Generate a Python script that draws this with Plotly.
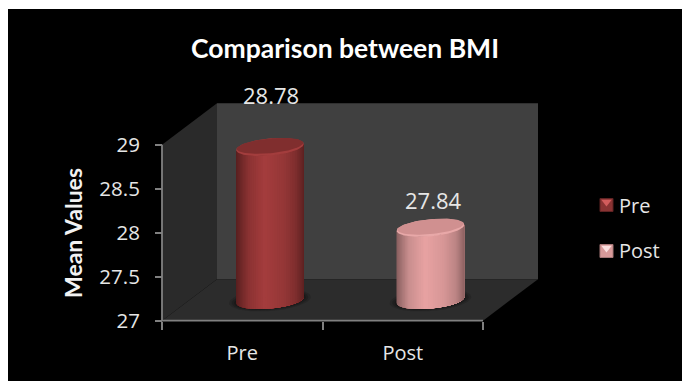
import numpy as np
import plotly.graph_objects as go

# Chart data
categories = ["Pre", "Post"]
mean_values = [28.78, 27.84]
value_labels = ["28.78", "27.84"]
y_ticks = [27, 27.5, 28, 28.5, 29]
y_tick_labels = ["27", "27.5", "28", "28.5", "29"]

# Canvas and scale of the front plane
W, H = 682, 381
ML, MT = 8, 9
X0_PX, Y0_PX = 162.0, 320.7      # page position of x=0, y=27
PX_PER_X, PX_PER_Y = 160.5, 88.0
BASE = 27
FONT = "Open Sans"


def dx(px):
    return px / PX_PER_X


def dy(px):
    return px / PX_PER_Y


def page_x(px):
    return (px - X0_PX) / PX_PER_X


def page_y(px):
    return BASE + (Y0_PX - px) / PX_PER_Y


# Oblique depth of the box and of the plane the cylinders stand in
DEPTH_X, DEPTH_Y = 55.0, 41.5
CYL_X, CYL_Y = 27.7, 20.7
CYL_SCALE = 0.977
RX, RY, TILT = 33.8, 8.6, 3.0

WALL_BACK = "#404040"
WALL_SIDE = "#2a2a2a"
FLOOR = "#2c2c2c"
AXIS = "#808080"
TEXT = "#e6e6e6"

# Colour stops across the cylinder body, left to right
BODY_STOPS = [
    [(0.0, "#5e2222"), (0.12, "#7f2e2e"), (0.3, "#953737"), (0.58, "#a43c3d"), (0.82, "#8a3232"), (1.0, "#5a2020")],
    [(0.0, "#8e6262"), (0.12, "#bb8484"), (0.3, "#d69696"), (0.58, "#e8a2a2"), (0.82, "#c98e8e"), (1.0, "#8a6060")],
]
TOP_RIM = ["#a33d3d", "#e8a8a8"]
TOP_FACE = ["#802e2e", "#d09090"]
KEY_COLORS = ["#8a3333", "#d89a9a"]
KEY_GLOW = ["#d25c5c", "#fbe0e0"]
KEY_EDGE = ["#5f2323", "#a67878"]
KEY_ROWS_PX = [205.0, 251.0]
KEY_TEXT_ROWS_PX = [205.0, 250.0]
KEY_X_PX = 606.5
KEY_TEXT_X_PX = 618.0


def hex_rgb(c):
    return np.array([int(c[i:i + 2], 16) for i in (1, 3, 5)], float)


def stop_color(stops, u):
    pos = [s[0] for s in stops]
    rgb = np.array([hex_rgb(s[1]) for s in stops])
    vals = [np.interp(u, pos, rgb[:, k]) for k in range(3)]
    return "rgb(%d,%d,%d)" % tuple(round(v) for v in vals)


def ring(cx, cy, t, rx=RX, ry=RY):
    """Points of a slanted ellipse; cx, cy in data units, radii in pixels."""
    x = cx + dx(rx) * np.cos(t)
    y = cy + dy(ry) * np.sin(t) + dy(TILT) * np.cos(t)
    return x, y


def polygon(x, y, color):
    return go.Scatter(
        x=list(x), y=list(y), mode="lines", fill="toself", fillcolor=color,
        line=dict(color=color, width=0), hoverinfo="skip", showlegend=False,
    )


fig = go.Figure()

# Box: back wall, side wall, floor
xl, xr = 0, len(categories)
yb, yt = y_ticks[0], y_ticks[-1]
ox, oy = dx(DEPTH_X), dy(DEPTH_Y)
fig.add_trace(polygon([xl + ox, xr + ox, xr + ox, xl + ox], [yb + oy, yb + oy, yt + oy, yt + oy], WALL_BACK))
fig.add_trace(polygon([xl, xl + ox, xl + ox, xl], [yb, yb + oy, yt + oy, yt], WALL_SIDE))
fig.add_trace(polygon([xl, xr, xr + ox, xl + ox], [yb, yb, yb + oy, yb + oy], FLOOR))

# Cylinders: contact shadow, shaded body, top face
full = np.linspace(0, 2 * np.pi, 90)
STRIPS = 44
for i, value in enumerate(mean_values):
    cx = i + 0.5 + dx(CYL_X)
    y_bottom = BASE + dy(CYL_Y)
    y_top = y_bottom + (value - BASE) * CYL_SCALE

    for grow, shade in [(7, "rgba(20,20,20,0.25)"), (4.5, "rgba(20,20,20,0.35)"), (2, "rgba(20,20,20,0.5)")]:
        sx, sy = ring(cx, y_bottom, full, RX + grow, RY + grow * 0.35)
        fig.add_trace(polygon(sx, sy, shade))

    # Each strip runs to the right-hand edge and the next one paints over it, which leaves no seams
    edges = np.linspace(np.pi, 2 * np.pi, STRIPS + 1)
    for a, b in zip(edges[:-1], edges[1:]):
        arc = np.linspace(a, 2 * np.pi, 40)
        bx, by = ring(cx, y_bottom, arc)
        tx, ty = ring(cx, y_top, arc[::-1])
        u = 0.5 * (1 - np.cos(0.5 * (a + b)))
        fig.add_trace(polygon(np.r_[bx, tx], np.r_[by, ty], stop_color(BODY_STOPS[i], u)))

    rx_pts, ry_pts = ring(cx, y_top, full)
    fig.add_trace(polygon(rx_pts, ry_pts, TOP_RIM[i]))
    fx, fy = ring(cx, y_top + dy(1.1), full, RX - 0.6, RY - 1.2)
    fig.add_trace(polygon(fx, fy, TOP_FACE[i]))

# Front axis lines
fig.add_trace(go.Scatter(x=[xl, xl, xr], y=[yt, yb, yb], mode="lines",
                         line=dict(color=AXIS, width=1.8), hoverinfo="skip", showlegend=False))

annotations = []

# Key: a square and its name for each series, with a bright facet on the square
for name, col, edge, glow, row, text_row in zip(categories, KEY_COLORS, KEY_EDGE, KEY_GLOW,
                                                KEY_ROWS_PX, KEY_TEXT_ROWS_PX):
    fig.add_trace(go.Scatter(
        x=[page_x(KEY_X_PX)], y=[page_y(row)], mode="markers", name=name,
        marker=dict(symbol="square", size=13, color=col, line=dict(color=edge, width=1)),
        hoverinfo="skip", showlegend=False,
    ))
    fig.add_trace(go.Scatter(
        x=[page_x(KEY_X_PX)], y=[page_y(row - 3)], mode="markers",
        marker=dict(symbol="triangle-down", size=9, color=glow), hoverinfo="skip", showlegend=False,
    ))
    annotations.append(dict(
        x=page_x(KEY_TEXT_X_PX), y=page_y(text_row), text=name, showarrow=False,
        xanchor="left", yanchor="middle", xshift=-1,
        font=dict(family=FONT, size=20, color=TEXT),
    ))

# Value labels above the cylinders
label_y_px = [94.5, 200.0]
for i, (value, text) in enumerate(zip(mean_values, value_labels)):
    annotations.append(dict(
        x=i + 0.5 + dx(CYL_X), y=value, text=text, showarrow=False, xanchor="center", yanchor="middle",
        xshift=1.5 + 1.5 * i, yshift=(Y0_PX - (value - BASE) * PX_PER_Y) - label_y_px[i],
        font=dict(family=FONT, size=22, color=TEXT),
    ))

# Vertical axis title
annotations.append(dict(
    x=page_x(73), y=page_y(233), text="<b>Mean Values</b>", textangle=-90, showarrow=False,
    xanchor="center", yanchor="middle", font=dict(family="Lato", size=23, color="#f2f2f2"),
))

fig.update_layout(
    width=W, height=H, autosize=False,
    margin=dict(l=ML, t=MT, r=0, b=0),
    paper_bgcolor="white", plot_bgcolor="black",
    title=dict(text="<b>Comparison between BMI</b>", x=345 / W, xanchor="center",
               y=1 - 49 / H, yanchor="middle", font=dict(family="Lato", size=26.5, color="white")),
    xaxis=dict(
        range=[page_x(ML), page_x(W)], showgrid=False, zeroline=False, showline=False, fixedrange=True,
        anchor="free", position=(H - Y0_PX) / (H - MT),
        tickmode="array", tickvals=[i + 0.5 for i in range(len(categories))], ticktext=categories,
        ticks="", tickfont=dict(family=FONT, size=20, color=TEXT), ticklabelstandoff=18,
        minor=dict(tickmode="array", tickvals=list(range(len(categories) + 1)), ticks="outside",
                   ticklen=8, tickwidth=1.8, tickcolor=AXIS, showgrid=False),
    ),
    yaxis=dict(
        range=[page_y(H), page_y(MT)], showgrid=False, zeroline=False, showline=False, fixedrange=True,
        anchor="free", position=(X0_PX - ML) / (W - ML),
        tickmode="array", tickvals=y_ticks, ticktext=y_tick_labels,
        ticks="outside", ticklen=7, tickwidth=1.8, tickcolor=AXIS,
        tickfont=dict(family=FONT, size=20.5, color=TEXT), ticklabelstandoff=11,
    ),
    showlegend=False,
    annotations=annotations,
)

fig.write_html("out.html", config={"displayModeBar": False})
